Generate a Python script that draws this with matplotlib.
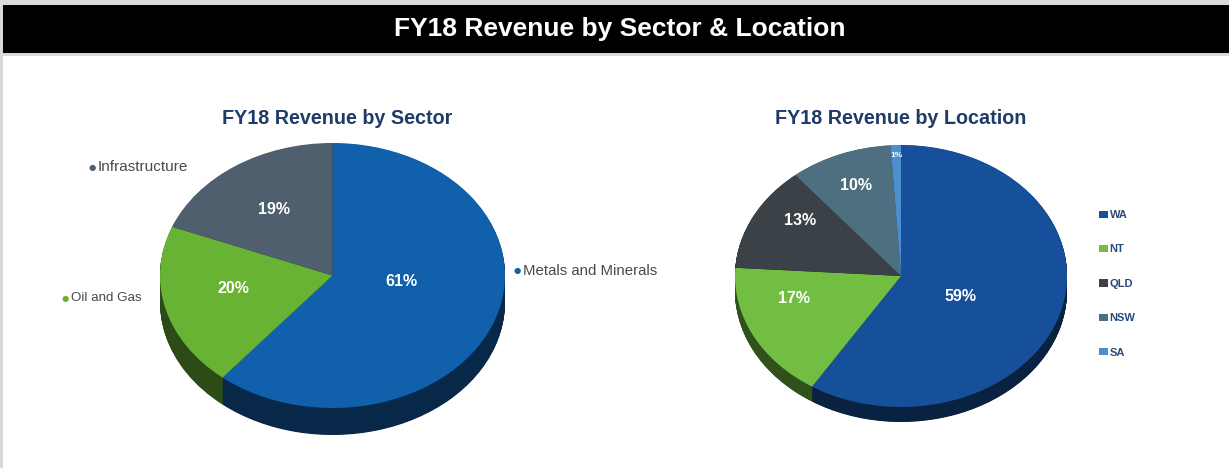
import matplotlib
matplotlib.use('Agg')
import matplotlib.pyplot as plt
import numpy as np
from matplotlib.patches import Rectangle
from matplotlib.colors import to_rgb

plt.rcParams['font.family'] = ['Liberation Sans', 'DejaVu Sans']

# ---------------- data ----------------
main_title = "FY18 Revenue by Sector & Location"

sector_title = "FY18 Revenue by Sector"
sector_labels = ["Metals and Minerals", "Oil and Gas", "Infrastructure"]
sector_values = [61, 20, 19]

location_title = "FY18 Revenue by Location"
location_labels = ["WA", "NT", "QLD", "NSW", "SA"]
location_values = [59, 17, 13, 10, 1]

# ---------------- styles ----------------
sector_colors = ['#1060AB', '#69B334', '#4F5F6D']
location_colors = ['#17509A', '#72BE42', '#3B4247', '#4E6F80', '#4A8FD0']
# percent label placement: (radius, angular shift in degrees)
sector_pct_place = [(0.40, 13), (0.58, -5), (0.60, 0)]
location_pct_place = [(0.39, -8), (0.67, -12), (0.74, -8), (0.74, 0), (0.92, 0)]
location_pct_sizes = [11.5, 11.5, 11.5, 11.5, 6]
title_navy = '#1F3B68'

W, H = 1229, 468
fig = plt.figure(figsize=(W / 100, H / 100), dpi=100)
fig.patch.set_facecolor('white')


def fx(px):
    return px / W


def fy(py):
    return 1 - py / H


# frame / header bar
fig.add_artist(Rectangle((0, fy(5)), 1, 5 / H, transform=fig.transFigure,
                         facecolor='#D9D9D9', edgecolor='none'))
fig.add_artist(Rectangle((0, 0), 3 / W, 1, transform=fig.transFigure,
                         facecolor='#D9D9D9', edgecolor='none'))
fig.add_artist(Rectangle((3 / W, fy(56)), 1, 3 / H, transform=fig.transFigure,
                         facecolor='#D9D9D9', edgecolor='none'))
fig.add_artist(Rectangle((3 / W, fy(53)), 1, 48 / H, transform=fig.transFigure,
                         facecolor='black', edgecolor='none'))
fig.text(fx(620), fy(29), main_title, ha='center', va='center',
         color='white', fontsize=19, fontweight='bold')


def darker(c, f):
    r, g, b = to_rgb(c)
    return (r * f, g * f, b * f)


def draw_pie(left, top, right, bottom_face, depth, values, colors,
             pct_place, pct_sizes):
    ry = (bottom_face - top) / 2.0
    d = depth / ry
    ax = fig.add_axes([fx(left), fy(bottom_face + depth),
                       (right - left) / W, (bottom_face + depth - top) / H])
    side = [darker(c, 0.42) for c in colors]
    for t in np.linspace(d, 0.0, 45)[:-1]:
        ax.pie(values, colors=side, startangle=90, counterclock=False,
               center=(0, -t), wedgeprops=dict(linewidth=0))
    wedges, texts, autotexts = ax.pie(
        values, colors=colors, startangle=90, counterclock=False,
        autopct='%1.0f%%', wedgeprops=dict(linewidth=0))
    for w, at, (r, shift), s in zip(wedges, autotexts, pct_place, pct_sizes):
        mid = np.deg2rad((w.theta1 + w.theta2) / 2.0 + shift)
        at.set_position((r * np.cos(mid), r * np.sin(mid)))
        at.set_color('white')
        at.set_fontweight('bold')
        at.set_fontsize(s)
    ax.set_xlim(-1, 1)
    ax.set_ylim(-1 - d, 1)
    ax.set_aspect('auto')
    ax.axis('off')
    return ax, wedges


# ---- left pie: sector ----
axL, wL = draw_pie(160, 143, 505, 408, 27, sector_values, sector_colors,
                   sector_pct_place, [11.5] * 3)
fig.text(fx(337), fy(118), sector_title, ha='center', va='center',
         color=title_navy, fontsize=14.2, fontweight='bold')

label_pos = {"Metals and Minerals": (517, 271, 10.8),
             "Oil and Gas": (65, 298, 9.6),
             "Infrastructure": (92, 167, 11.0)}
for lab, col in zip(sector_labels, sector_colors):
    x, y, fs = label_pos[lab]
    fig.text(fx(x), fy(y), '\u25CF', ha='center', va='center',
             color=col, fontsize=6, family='DejaVu Sans')
    fig.text(fx(x + 6), fy(y), lab, ha='left', va='center',
             color='#4A4A4A', fontsize=fs)

# ---- right pie: location ----
axR, wR = draw_pie(735, 145, 1067, 407, 15, location_values, location_colors,
                   location_pct_place, location_pct_sizes)
fig.text(fx(901), fy(118), location_title, ha='center', va='center',
         color=title_navy, fontsize=14.2, fontweight='bold')

leg = axR.legend(wR, location_labels, loc='upper left',
                 bbox_to_anchor=(fx(1089), fy(200)),
                 bbox_transform=fig.transFigure, frameon=False,
                 prop=dict(size=8, weight='bold'), labelspacing=2.2,
                 handlelength=0.8, handleheight=0.6, handletextpad=0.15)
for t in leg.get_texts():
    t.set_color('#2B4A7A')

fig.savefig('out.png', dpi=100, facecolor='white')
